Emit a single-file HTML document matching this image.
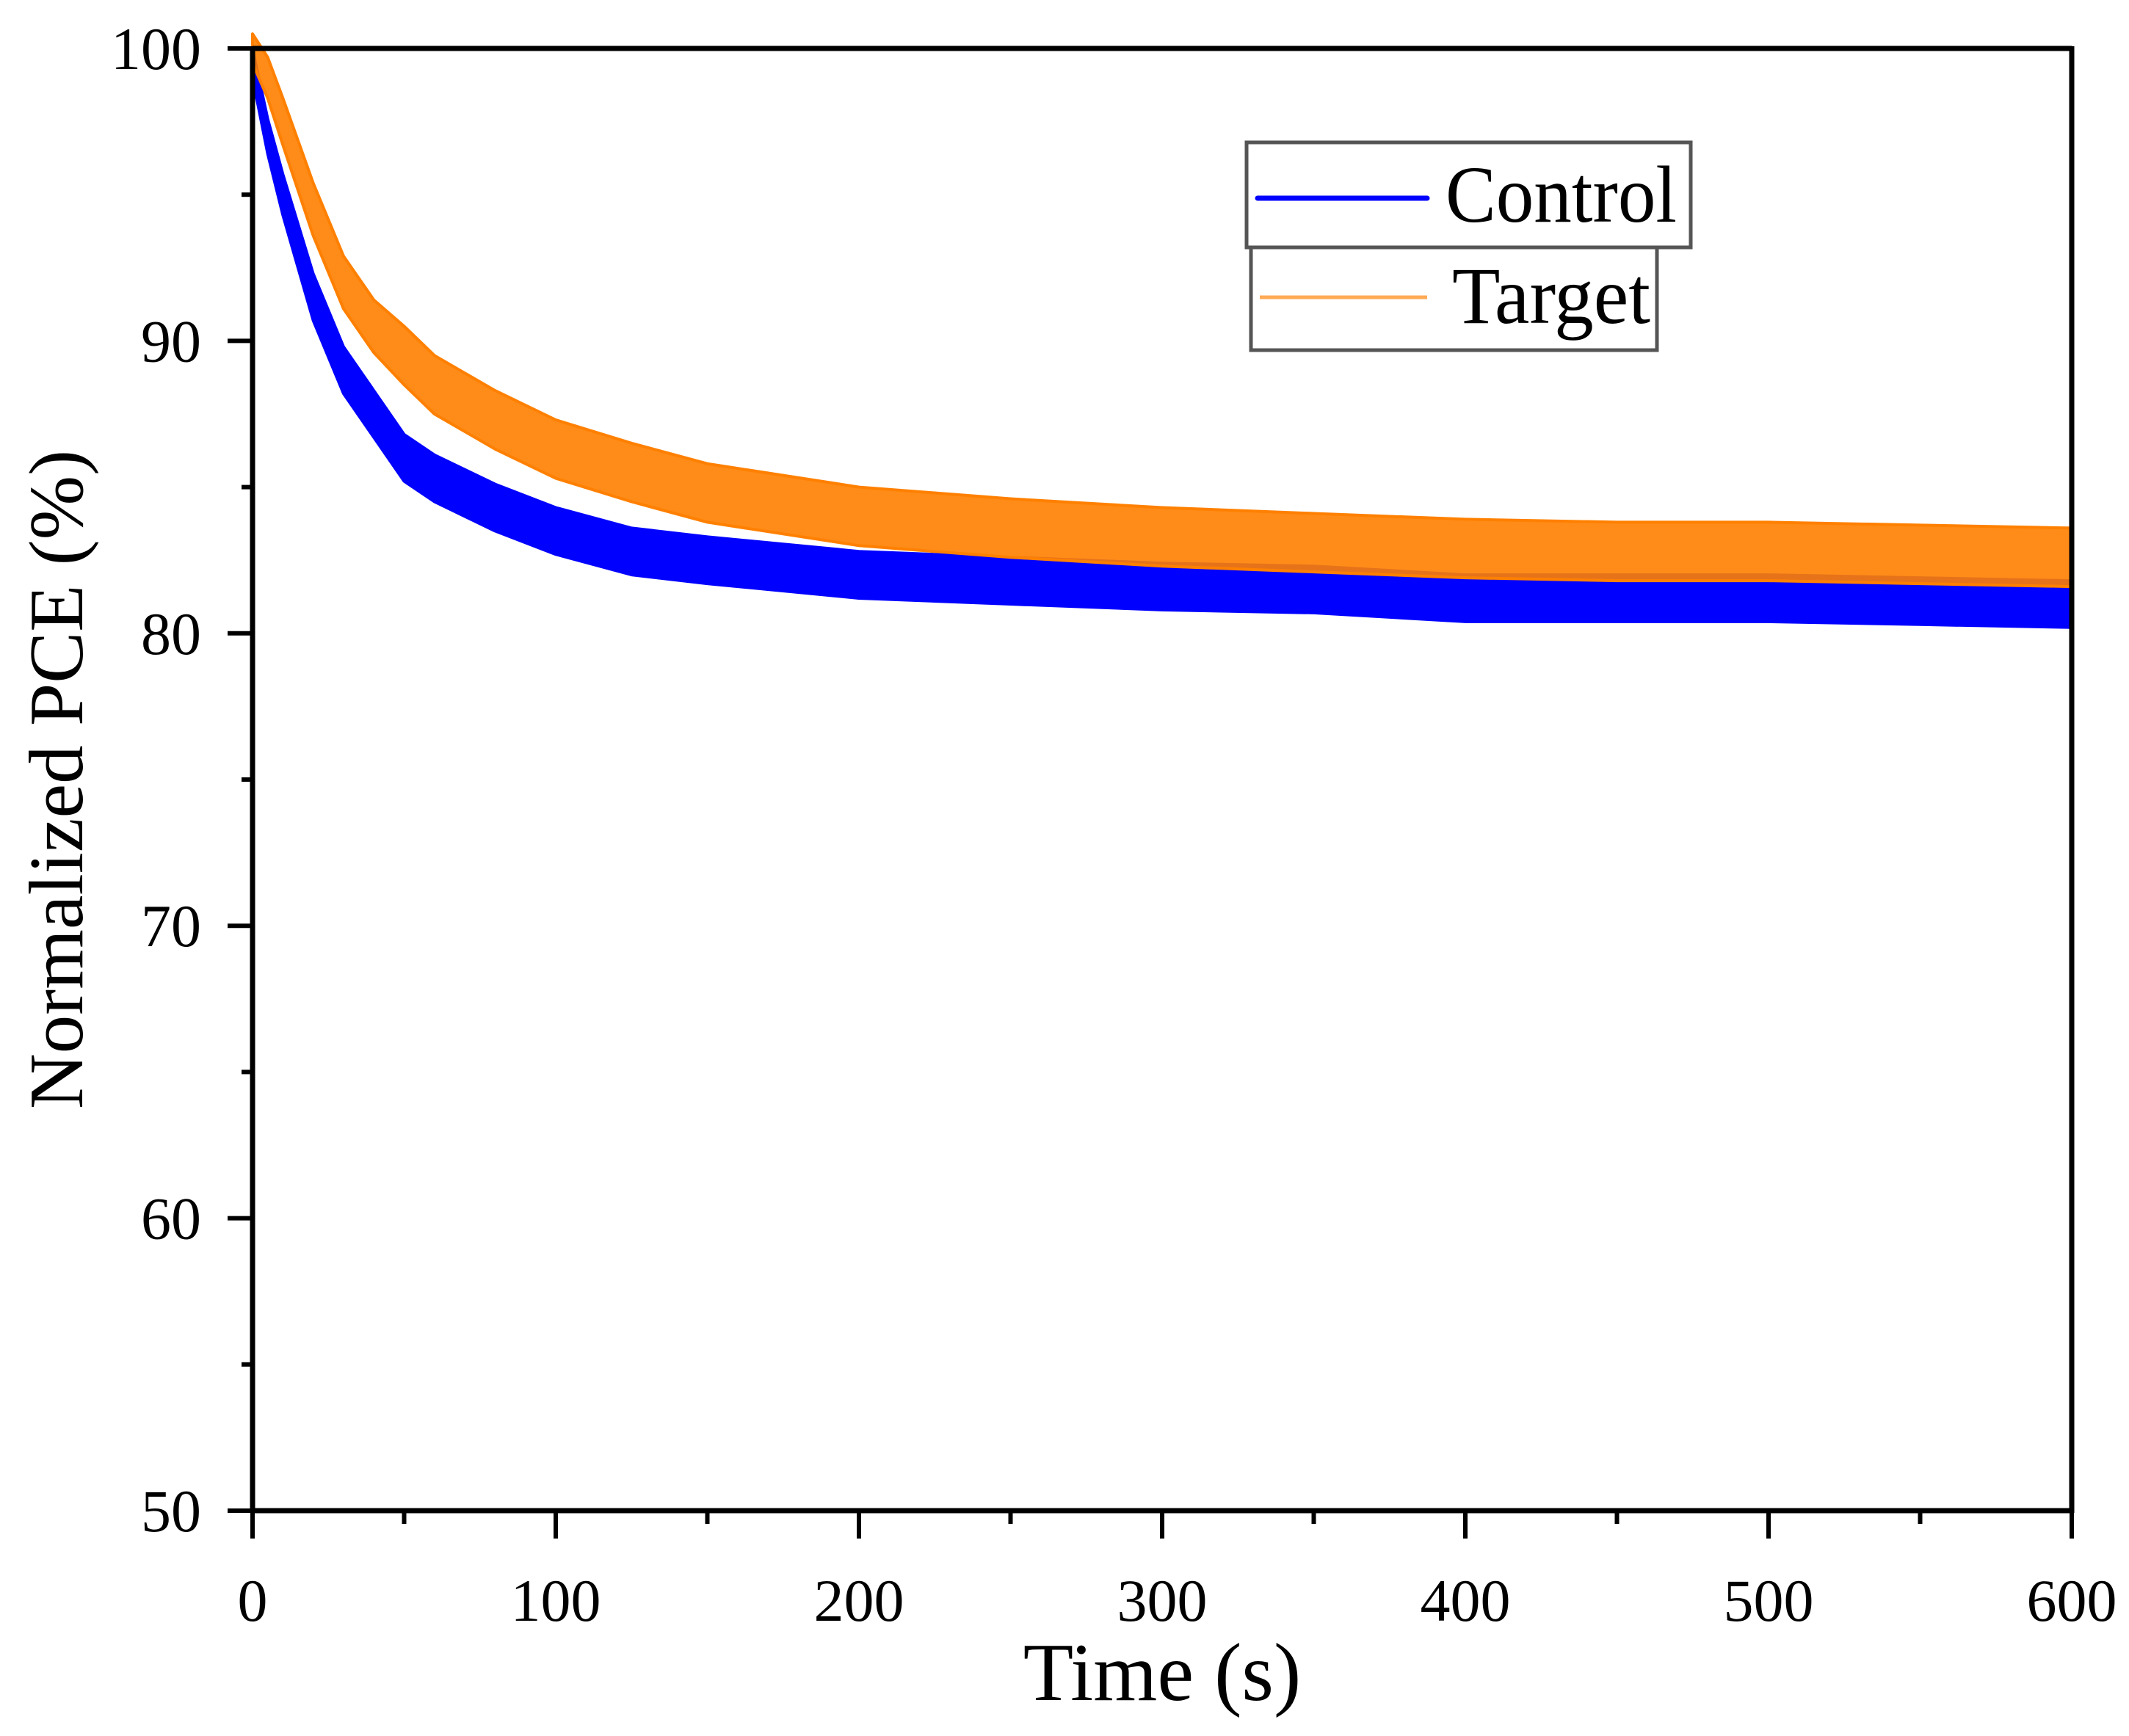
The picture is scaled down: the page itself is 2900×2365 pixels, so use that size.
<!DOCTYPE html>
<html><head><meta charset="utf-8"><style>
html,body{margin:0;padding:0;background:#fff}
svg text{font-family:"Liberation Serif",serif;fill:#000}
</style></head><body>
<svg id="chart" width="2900" height="2360" viewBox="0 0 2900 2360" xmlns="http://www.w3.org/2000/svg">
<g id="plot"></g>
<g id="axes"></g>
<g>
<rect x="1698" y="194" width="605" height="143" fill="#fff" stroke="#555" stroke-width="5"/>
<rect x="1704" y="337" width="553" height="140" fill="#fff" stroke="#555" stroke-width="5"/>
<line x1="1713" y1="270" x2="1944" y2="270" stroke="#0000ff" stroke-width="7" stroke-linecap="round"/>
<text x="1969" y="302" font-size="110" textLength="315" lengthAdjust="spacingAndGlyphs">Control</text>
<line x1="1716" y1="405" x2="1944" y2="405" stroke="#ffaa55" stroke-width="5"/>
<text x="1978" y="440" font-size="110" textLength="270" lengthAdjust="spacingAndGlyphs">Target</text>
</g>
<text x="1583" y="2316" font-size="112" text-anchor="middle">Time (s)</text>
<text transform="translate(112,1062) rotate(-90)" font-size="105" text-anchor="middle">Normalized PCE (%)</text>
</svg>
<script>
const times=[0,5,10,20,30,40,50,60,80,100,125,150,200,250,300,350,400,450,500,550,600];
const controlMean=[99.5,97,95,91.5,89,87.5,86,85.3,84.3,83.5,82.8,82.5,82,81.8,81.6,81.5,81.2,81.2,81.2,81.1,81.0];
const targetMean=[100,99,97.5,94.5,92,90.5,89.5,88.5,87.3,86.3,85.5,84.8,84,83.6,83.3,83.1,82.9,82.8,82.8,82.7,82.6];
const controlSpread=[0.5,0.6,0.7,0.8,0.8,0.8,0.8,0.8,0.8,0.8,0.8,0.8,0.8,0.8,0.8,0.8,0.8,0.8,0.8,0.8,0.8];
const targetSpread=[0.5,0.7,0.8,0.9,0.9,0.9,1.0,1.0,1.0,1.0,1.0,1.0,1.0,1.0,1.0,1.0,1.0,1.0,1.0,1.0,1.0];
const xTicks=[0,100,200,300,400,500,600];
const yTicks=[50,60,70,80,90,100];
const X0=344,X1=2822,Y0=2058,Y1=66;
const xs=v=>X0+(v-0)/(600-0)*(X1-X0);
const ys=v=>Y0-(v-50)/(100-50)*(Y0-Y1);
const NS="http://www.w3.org/2000/svg";
const plot=document.getElementById('plot'),axes=document.getElementById('axes');
function band(mean,spread,color,name,op){
  let up=[],lo=[];
  for(let i=0;i<times.length;i++){up.push(xs(times[i]).toFixed(1)+','+ys(mean[i]+spread[i]).toFixed(1));lo.push(xs(times[i]).toFixed(1)+','+ys(mean[i]-spread[i]).toFixed(1));}
  const p=document.createElementNS(NS,'polygon');
  p.setAttribute('points',up.concat(lo.reverse()).join(' '));
  p.setAttribute('fill',color);p.setAttribute('fill-opacity',op);
  p.setAttribute('stroke',color);p.setAttribute('stroke-width','4');p.setAttribute('stroke-linejoin','round');
  
  
  plot.appendChild(p);
}
band(controlMean,controlSpread,'#0000ff','control-series',1);
band(targetMean,targetSpread,'#ff8000','target-series',0.9);
const sp=document.createElementNS(NS,'line');
sp.setAttribute('x1',xs(0));sp.setAttribute('x2',xs(0));sp.setAttribute('y1',ys(100));sp.setAttribute('y2',ys(90));
sp.setAttribute('stroke','#0000ff');sp.setAttribute('stroke-width','6');


plot.appendChild(sp);
function ln(x1,y1,x2,y2,w,name){const l=document.createElementNS(NS,'line');l.setAttribute('x1',x1);l.setAttribute('y1',y1);l.setAttribute('x2',x2);l.setAttribute('y2',y2);l.setAttribute('stroke','#000');l.setAttribute('stroke-width',w);


axes.appendChild(l);}
ln(X0,Y1,X1,Y1,7,'top-axis');ln(X0,Y0,X1,Y0,7,'x-axis');ln(X0,Y1-3,X0,Y0+3,7,'y-axis');ln(X1,Y1-3,X1,Y0+3,7,'right-axis');
for(let v=0;v<=600;v+=50){const major=v%100===0;ln(xs(v),Y0,xs(v),Y0+(major?38:18),6,'x-tick');}
for(let v=50;v<=100;v+=5){const major=v%10===0;ln(X0,ys(v),X0-(major?34:15),ys(v),6,'y-tick');}
xTicks.forEach(v=>{const t=document.createElementNS(NS,'text');t.setAttribute('x',xs(v));t.setAttribute('y',Y0+150);t.setAttribute('font-size','82');t.setAttribute('text-anchor','middle');t.textContent=v;


axes.appendChild(t);});
yTicks.forEach(v=>{const t=document.createElementNS(NS,'text');t.setAttribute('x',X0-70);t.setAttribute('y',ys(v)+28);t.setAttribute('font-size','82');t.setAttribute('text-anchor','end');t.textContent=v;


axes.appendChild(t);});
</script>
</body></html>
